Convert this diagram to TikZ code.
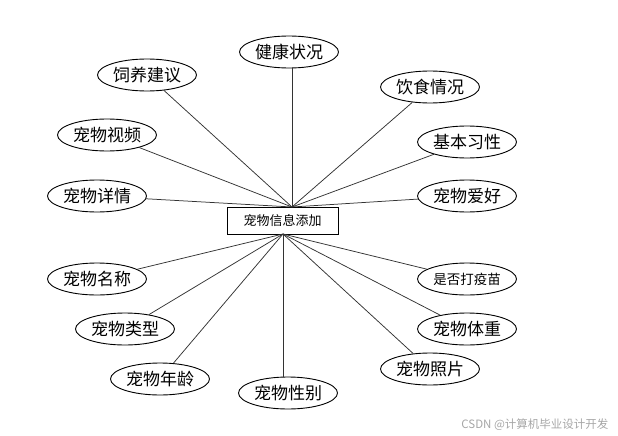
\documentclass[tikz,border=0pt]{standalone}
\usepackage{fontspec}
\setmainfont{Noto Sans CJK SC}
\usepackage{tikz}
\usetikzlibrary{shapes.geometric}
\tikzset{
  attr/.style={draw, ellipse, line width=0.9pt, minimum width=99pt,
    minimum height=32pt, inner sep=0pt, font=\fontsize{17}{19}\selectfont},
  attrsm/.style={attr, font=\fontsize{13.5}{15}\selectfont},
  entity/.style={draw, rectangle, line width=0.9pt, minimum width=111pt,
    minimum height=27pt, inner sep=0pt, font=\fontsize{13}{15}\selectfont},
  link/.style={line width=0.75pt, black!80},
}

\begin{document}
\begin{tikzpicture}[x=1pt, y=-1pt]
  \useasboundingbox (0,0) rectangle (618,436);

  % entity
  \node[entity] (add) at (282.5,220.5) {宠物信息添加};
  \coordinate (hubN) at (292,207);
  \coordinate (hubS) at (283,234);

  % upper attributes
  \node[attr] (health) at (289,52) {健康状况};
  \node[attr] (feed) at (147,75) {饲养建议};
  \node[attr] (video) at (107,135) {宠物视频};
  \node[attr] (detail) at (97,196) {宠物详情};
  \node[attr] (diet) at (430,87) {饮食情况};
  \node[attr] (habit) at (467,142) {基本习性};
  \node[attr] (hobby) at (467,196) {宠物爱好};

  % lower attributes
  \node[attr] (name) at (97,279) {宠物名称};
  \node[attr] (kind) at (125,329) {宠物类型};
  \node[attr] (age) at (160,379) {宠物年龄};
  \node[attr] (sex) at (288,393) {宠物性别};
  \node[attr] (photo) at (430,369) {宠物照片};
  \node[attr] (weight) at (467,329) {宠物体重};
  \node[attrsm] (vacc) at (467,279) {是否打疫苗};

  % connectors
  \draw[link] (hubN) -- (health.south -| hubN);
  \draw[link] (hubN) -- (feed);
  \draw[link] (hubN) -- (video);
  \draw[link] (hubN) -- (detail);
  \draw[link] (hubN) -- (diet);
  \draw[link] (hubN) -- (habit);
  \draw[link] (hubN) -- (hobby);
  \draw[link] (hubS) -- (name);
  \draw[link] (hubS) -- (kind);
  \draw[link] (hubS) -- (age);
  \draw[link] (hubS) -- (sex.north -| hubS);
  \draw[link] (hubS) -- (photo);
  \draw[link] (hubS) -- (weight);
  \draw[link] (hubS) -- (vacc);

  % watermark
  \node[text=black!35, font=\fontsize{11.5}{13}\selectfont, anchor=east] (mark) at (612,425) {CSDN @计算机毕业设计开发};
\end{tikzpicture}
\end{document}
